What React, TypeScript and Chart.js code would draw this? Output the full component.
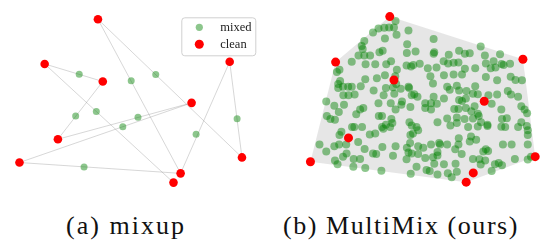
import React, { useEffect, useRef } from "react";
import { Chart, registerables } from "chart.js";
Chart.register(...registerables);

// ---- data (embedding coordinates, same units in both panels) ----
const mixupClean: [number, number][] = [
  [290, 47], [125, 187], [305, 242], [698, 180], [580, 309],
  [166, 423], [47, 496], [736, 480], [546, 530], [524, 559],
];
const mixupMixed: [number, number][] = [
  [232, 219], [393, 240], [469, 220], [285, 336], [221, 350],
  [414, 354], [367, 384], [721, 359], [594, 407], [247, 510],
];
const mixupPairs: [number, number][] = [
  [1, 2], [2, 5], [1, 9], [0, 8], [0, 7], [5, 4], [6, 4], [6, 8], [3, 8], [3, 7],
];

const multimixClean: [number, number][] = [
  [342, 38], [174, 181], [755, 172], [355, 237], [635, 304],
  [214, 419], [96, 494], [793, 478], [601, 529], [579, 558],
];
const multimixHull: number[] = [0, 2, 7, 9, 6, 1];
const multimixMixed: [number, number][] = [
  [360,52],[307,75],[325,73],[340,72],[355,72],[290,88],[400,82],[363,95],[327,107],[478,108],[263,115],[255,130],[396,125],
  [624,132],[258,140],[320,145],[310,150],[480,150],[478,155],[422,148],[395,152],[525,158],[557,145],[575,155],[590,153],[637,160],[684,156],[245,160],[263,160],[281,160],[224,180],[267,188],[297,188],[331,188],[346,178],[509,178],[523,185],[540,183],[555,182],[664,178],[640,185],[689,187],[715,186],[695,190],[655,200],[670,198],
  [394,192],[408,195],[415,190],[435,186],[186,205],[178,212],[364,205],[327,222],[359,225],[460,200],[487,198],[575,202],[607,200],[468,225],[510,222],[540,220],[566,220],[640,228],[675,238],[717,227],[732,237],[752,238],[188,240],[182,250],[266,235],[302,232],
  [476,248],[607,257],[520,258],[550,255],[182,262],[197,258],[213,258],[224,258],[252,257],[330,262],[352,260],[362,250],[376,265],[400,258],[402,262],[292,270],[323,285],[198,285],[214,285],[233,283],[356,280],[418,282],[428,290],[478,290],[510,295],[528,268],[557,270],[580,272],[600,280],[615,282],[648,285],[675,283],[708,272],[718,283],[740,290],
  [145,305],[170,318],[200,315],[184,338],[238,345],[250,330],[260,325],[307,310],[345,310],[380,305],[378,315],[410,285],[452,310],[470,310],[488,312],[452,325],[470,330],[406,322],[557,300],[578,295],[566,303],[542,328],[555,328],[578,325],[595,335],[615,343],[605,320],[658,312],[688,330],[750,320],[760,330],[768,342],[360,330],
  [147,350],[158,360],[172,362],[308,350],[318,350],[347,360],[350,372],[403,370],[490,370],[520,358],[550,355],[550,372],[574,360],[600,358],[618,350],[625,370],[645,382],[690,360],[705,357],[700,385],[750,370],[767,382],[225,385],[232,385],[256,385],[318,385],[330,378],[343,385],[410,380],[425,385],[430,395],[414,405],[406,410],[530,380],[585,385],[615,383],[645,378],[688,384],[740,385],[770,395],
  [192,400],[186,410],[280,408],[297,405],[322,390],[594,415],[610,425],[556,420],[555,440],[495,435],[498,440],[520,440],[405,435],[395,450],[430,445],[446,450],[470,440],[490,463],[545,455],[590,430],[640,455],[647,460],[693,440],[720,440],[770,410],[770,440],[124,440],[170,445],[185,440],[207,440],[244,432],[264,454],[319,448],[360,445],[400,465],
  [145,462],[208,468],[197,478],[172,490],[180,502],[230,485],[250,485],[266,514],[229,510],[290,468],[300,470],[352,475],[394,486],[410,468],[430,470],[452,482],[476,480],[490,474],[480,500],[510,502],[565,470],[546,500],[600,485],[620,486],[638,490],[632,462],[668,502],[680,498],[690,505],[730,485],[770,487],[780,478],
  [316,522],[407,532],[425,510],[456,520],[466,523],[490,534],[522,530],[534,543],[550,525],[658,523],[624,503],
];

const legendLabels = ["mixed", "clean"];
const captions = ["(a) mixup", "(b) MultiMix (ours)"];

const GREEN = "rgba(0,128,0,0.45)";
const RED = "#ff0000";

const toXY = (p: [number, number]) => ({ x: p[0], y: p[1] });

const hullPlugin = {
  id: "hullFill",
  beforeDatasetsDraw(chart: any, _args: any, opts: any) {
    const pts: [number, number][] | undefined = opts && opts.points;
    if (!pts || !pts.length) return;
    const { ctx, scales } = chart;
    ctx.save();
    ctx.beginPath();
    pts.forEach((p, i) => {
      const px = scales.x.getPixelForValue(p[0]);
      const py = scales.y.getPixelForValue(p[1]);
      if (i === 0) ctx.moveTo(px, py);
      else ctx.lineTo(px, py);
    });
    ctx.closePath();
    ctx.fillStyle = "rgba(128,128,128,0.2)";
    ctx.fill();
    ctx.restore();
  },
};

const boxLegendPlugin = {
  id: "boxLegend",
  afterDatasetsDraw(chart: any, _args: any, opts: any) {
    if (!opts || !opts.show) return;
    const { ctx, chartArea } = chart;
    const x0 = chartArea.left + 177.5;
    const y0 = chartArea.top + 13.5;
    const w = 74;
    const h = 38;
    ctx.save();
    ctx.beginPath();
    ctx.roundRect(x0, y0, w, h, 3);
    ctx.fillStyle = "rgba(255,255,255,0.8)";
    ctx.fill();
    ctx.strokeStyle = "#d0d0d0";
    ctx.lineWidth = 1;
    ctx.stroke();
    const items = [
      { label: legendLabels[0], color: GREEN, r: 3.6, cy: 23 },
      { label: legendLabels[1], color: RED, r: 4.5, cy: 40 },
    ];
    ctx.font = '12.5px "Liberation Serif"';
    ctx.textBaseline = "alphabetic";
    ctx.textAlign = "left";
    items.forEach((it) => {
      ctx.beginPath();
      ctx.arc(chartArea.left + 195, chartArea.top + it.cy, it.r, 0, Math.PI * 2);
      ctx.fillStyle = it.color;
      ctx.fill();
      ctx.fillStyle = "#222";
      ctx.fillText(it.label, chartArea.left + 216, chartArea.top + it.cy + 3.6);
    });
    ctx.restore();
  },
};

type PanelProps = {
  clean: [number, number][];
  mixed: [number, number][];
  pairs?: [number, number][];
  hull?: number[];
  legend?: boolean;
  mixedRadius: number;
  cleanRadius: number;
};

function Panel({ clean, mixed, pairs, hull, legend, mixedRadius, cleanRadius }: PanelProps) {
  const ref = useRef<HTMLCanvasElement | null>(null);
  useEffect(() => {
    if (!ref.current) return;
    const datasets: any[] = [
      {
        label: legendLabels[1],
        data: clean.map(toXY),
        backgroundColor: RED,
        borderWidth: 0,
        pointRadius: cleanRadius,
        order: 1,
        clip: false,
      },
      {
        label: legendLabels[0],
        data: mixed.map(toXY),
        backgroundColor: GREEN,
        borderWidth: 0,
        pointRadius: mixedRadius,
        order: 2,
        clip: false,
      },
    ];
    (pairs || []).forEach(([a, b]) => {
      datasets.push({
        label: "pair",
        data: [toXY(clean[a]), toXY(clean[b])],
        showLine: true,
        borderColor: "rgba(150,150,150,0.38)",
        borderWidth: 1,
        pointRadius: 0,
        order: 3,
        clip: false,
      });
    });
    const chart = new Chart(ref.current, {
      type: "scatter",
      data: { datasets },
      options: {
        animation: false,
        responsive: false,
        events: [],
        layout: { padding: 0 },
        scales: {
          x: { type: "linear", min: 0, max: 825, display: false },
          y: { type: "linear", min: 0, max: 600, reverse: true, display: false },
        },
        plugins: {
          legend: { display: false },
          tooltip: { enabled: false },
          hullFill: { points: hull ? hull.map((i) => clean[i]) : [] },
          boxLegend: { show: !!legend },
        } as any,
      },
      plugins: [hullPlugin, boxLegendPlugin],
    });
    return () => chart.destroy();
  }, []);
  return <canvas ref={ref} width={275} height={200} style={{ display: "block", width: 275, height: 200 }} />;
}

export default function App() {
  useEffect(() => {
    document.body.style.margin = "0";
  }, []);
  const capStyle = (center: number, spacing: number): React.CSSProperties => ({
    position: "absolute",
    left: center - 150,
    width: 300,
    top: 213.2,
    textAlign: "center",
    fontFamily: '"Liberation Serif", serif',
    fontSize: "26px",
    lineHeight: "26px",
    letterSpacing: `${spacing}px`,
    color: "#111",
    whiteSpace: "nowrap",
  });
  return (
    <div style={{ position: "relative", width: 550, height: 244, background: "#fff", overflow: "hidden" }}>
      <div style={{ position: "absolute", left: 0, top: 0 }}>
        <Panel clean={mixupClean} mixed={mixupMixed} pairs={mixupPairs} legend mixedRadius={3.5} cleanRadius={4.3} />
      </div>
      <div style={{ position: "absolute", left: 275, top: 0 }}>
        <Panel clean={multimixClean} mixed={multimixMixed} hull={multimixHull} mixedRadius={4} cleanRadius={4.5} />
      </div>
      <div style={capStyle(126, 2.0)}>{captions[0]}</div>
      <div style={capStyle(401, 1.55)}>{captions[1]}</div>
    </div>
  );
}
